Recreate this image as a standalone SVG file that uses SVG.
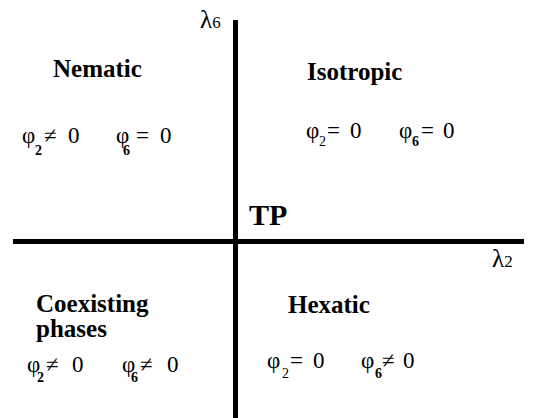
<svg xmlns="http://www.w3.org/2000/svg" width="535" height="418" viewBox="0 0 535 418" font-family="'Liberation Serif', 'Times New Roman', serif">
<style>
.lbl{font-weight:bold;font-size:25px}
.tp{font-weight:bold;font-size:30px}
.f{font-size:23px}
.s{font-size:14px;font-weight:bold}
.n{font-weight:normal}
.ax{font-size:25px}
.axs{font-size:17px}
.axis{stroke:#000;stroke-width:5;fill:none}
</style>
<g id="connectors">
<line class="axis" x1="235.5" y1="20" x2="235.5" y2="418"/>
<line class="axis" x1="13" y1="241.5" x2="524" y2="241.5"/>
</g>
<g id="axis-labels">
<text class="ax" x="200" y="28">λ<tspan class="axs">6</tspan></text>
<text class="ax" x="492" y="267">λ<tspan class="axs">2</tspan></text>
</g>
<g id="tp"><text class="tp" x="249" y="225">TP</text></g>
<g id="nematic">
<text class="lbl" x="53" y="77">Nematic</text>
<text class="f" y="143"><tspan x="22">φ</tspan><tspan class="s" x="35" y="155">2</tspan><tspan x="44" y="143">≠</tspan><tspan x="68">0</tspan></text>
<text class="f" y="143"><tspan x="116">φ</tspan><tspan class="s" x="123" y="155">6</tspan><tspan x="136" y="143">=</tspan><tspan x="160">0</tspan></text>
</g>
<g id="isotropic">
<text class="lbl" x="307" y="80">Isotropic</text>
<text class="f" y="138"><tspan x="306">φ</tspan><tspan class="s n" x="319" y="146">2</tspan><tspan x="327" y="138">=</tspan><tspan x="350">0</tspan></text>
<text class="f" y="138"><tspan x="399">φ</tspan><tspan class="s" x="412" y="146">6</tspan><tspan x="421" y="138">=</tspan><tspan x="443">0</tspan></text>
</g>
<g id="coexisting">
<text class="lbl" x="36" y="312">Coexisting</text>
<text class="lbl" x="36" y="337">phases</text>
<text class="f" y="372"><tspan x="27">φ</tspan><tspan class="s" x="37" y="382">2</tspan><tspan x="46" y="372">≠</tspan><tspan x="72">0</tspan></text>
<text class="f" y="372"><tspan x="122">φ</tspan><tspan class="s" x="131" y="382">6</tspan><tspan x="140" y="372">≠</tspan><tspan x="167">0</tspan></text>
</g>
<g id="hexatic">
<text class="lbl" x="288" y="313">Hexatic</text>
<text class="f" y="368"><tspan x="267">φ</tspan><tspan class="s n" x="282" y="378">2</tspan><tspan x="290" y="368">=</tspan><tspan x="313">0</tspan></text>
<text class="f" y="368"><tspan x="361">φ</tspan><tspan class="s" x="375" y="378">6</tspan><tspan x="382" y="368">≠</tspan><tspan x="403">0</tspan></text>
</g>
</svg>
